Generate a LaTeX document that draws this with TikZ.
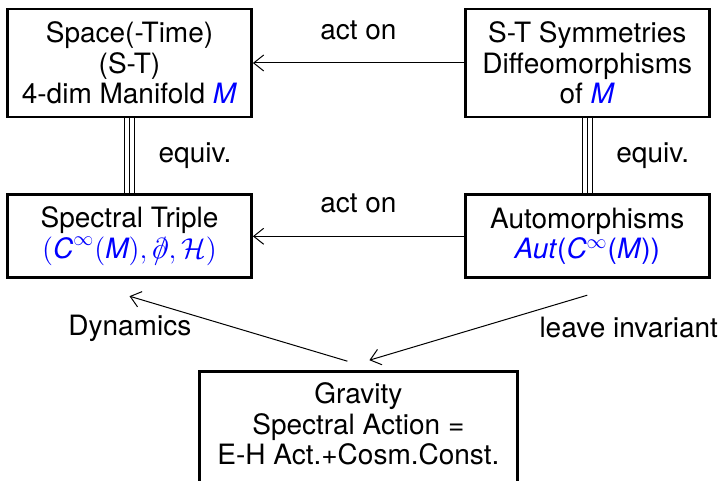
\documentclass[tikz,border=0pt]{standalone}
\usepackage{fontspec}
\setmainfont{TeX Gyre Heros}
\usetikzlibrary{arrows.meta,positioning,calc}

\newcommand{\dslash}{\hbox{\ooalign{$\partial$\cr\hidewidth$/$\hidewidth\cr}}}

\begin{document}
\begin{tikzpicture}[
    >={Straight Barb[length=5pt,width=8pt]},
    node distance=37.5pt and 105.5pt,
    every node/.style={font=\fontsize{14pt}{15.25pt}\selectfont},
    box/.style={draw, line width=1.4pt, minimum width=122pt, align=center},
    conn/.style={->, line width=0.5pt},
  ]
    \useasboundingbox (0,0) rectangle (362.5pt,240.5pt);
    \node[box, minimum height=54pt] (st) at (64.75pt,209pt) {Space(-Time)\\(S-T)\\4-dim Manifold \textcolor{blue}{\textit{M}}};
    \node[box, minimum height=54pt, right=of st] (sym) {S-T Symmetries\\Diffeomorphisms\\of \textcolor{blue}{\textit{M}}};
    \node[box, minimum height=41.5pt, below=of st] (trip) {Spectral Triple\\\textcolor{blue}{$(\textit{C}^{\infty}(\textit{M}),\dslash,\mathcal{H})$}};
    \node[box, minimum height=41.5pt, below=of sym] (aut) {Automorphisms\\\textcolor{blue}{\textit{Aut}(\textit{C}$^{\infty}$(\textit{M}))}};
    \node[box, minimum width=159pt, minimum height=58pt, text depth=6pt, anchor=north] (grav) at ($(trip.south)!0.5!(aut.south)+(0,-45.5pt)$) {Gravity\\Spectral Action =\\E-H Act.+Cosm.Const.};
    \draw[conn] (sym) -- node[above=8pt] {act on} (st);
    \draw[conn] (aut) -- node[above=8pt] {act on} (trip);
    \foreach \dx in {-2.5pt,0pt,2.5pt} {
      \draw[line width=0.5pt] ([xshift=\dx]st.south) -- ([xshift=\dx]trip.north);
      \draw[line width=0.5pt] ([xshift=\dx]sym.south) -- ([xshift=\dx]aut.north);
    }
    \path (st) -- node[right=11pt] {equiv.} (trip);
    \path (sym) -- node[right=11pt] {equiv.} (aut);
    \draw[conn] ([xshift=-5.5pt,yshift=4.5pt]grav.north) -- node[left=20pt] {Dynamics} ([yshift=-8.5pt]trip.south);
    \draw[conn] ([yshift=-8pt]aut.south) -- node[right=27pt] {leave invariant} ([xshift=5.5pt,yshift=5pt]grav.north);
  \end{tikzpicture}
\end{document}
